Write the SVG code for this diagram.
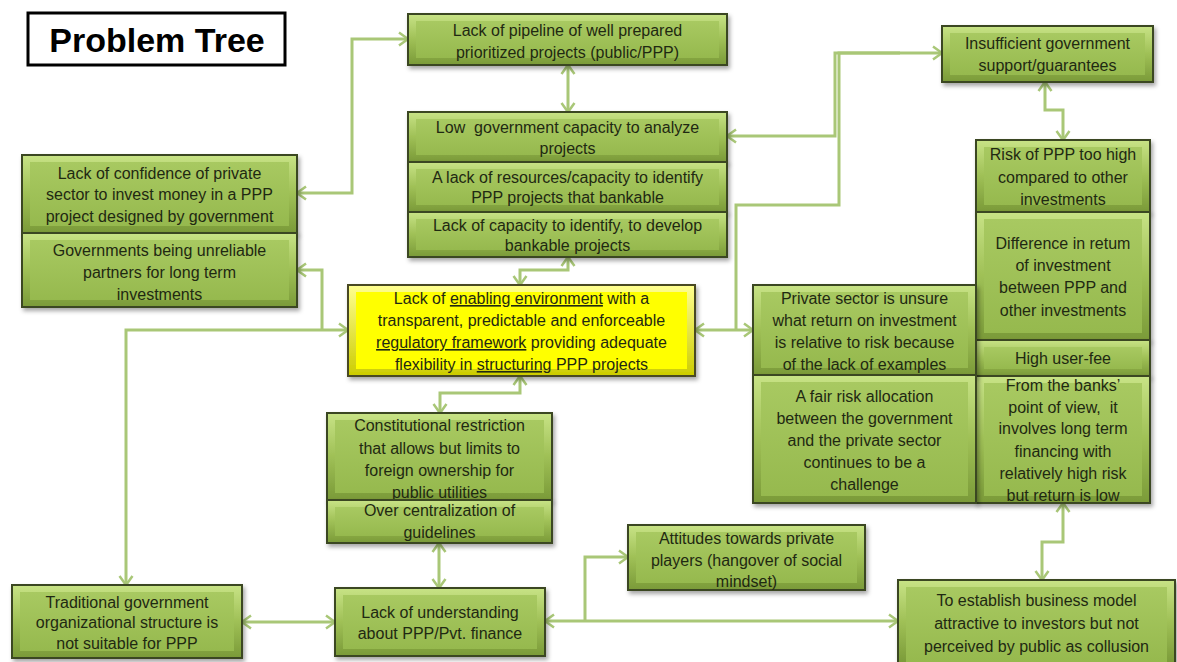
<svg xmlns="http://www.w3.org/2000/svg" width="1177" height="662" viewBox="0 0 1177 662">
<style>
.t{font-family:"Liberation Sans",Arial,sans-serif;font-size:16px;fill:#1f2912;text-anchor:middle;white-space:pre}
.edge{fill:url(#gEdge);stroke:#3a4722;stroke-width:2;filter:url(#sh)}
.face{fill:url(#gFace)}
.yedge{fill:url(#yEdge);stroke:#4a4a20;stroke-width:2;filter:url(#sh)}
.yface{fill:#ffff00}
.c{fill:none;stroke:#a9c777;stroke-width:3}
.u{text-decoration:underline}
</style>
<defs>
<linearGradient id="gEdge" x1="0" y1="0" x2="0" y2="1">
<stop offset="0" stop-color="#c8e386"/><stop offset="0.5" stop-color="#9fc056"/><stop offset="1" stop-color="#7a9a38"/>
</linearGradient>
<linearGradient id="gFace" x1="0" y1="0" x2="0" y2="1">
<stop offset="0" stop-color="#a8c961"/><stop offset="1" stop-color="#96b94e"/>
</linearGradient>
<linearGradient id="yEdge" x1="0" y1="0" x2="0" y2="1">
<stop offset="0" stop-color="#ffff90"/><stop offset="1" stop-color="#cccc00"/>
</linearGradient>
<filter id="sh" x="-10%" y="-10%" width="120%" height="130%">
<feDropShadow dx="2" dy="3" stdDeviation="2" flood-color="#000" flood-opacity="0.35"/>
</filter>
<marker id="ar" markerUnits="userSpaceOnUse" markerWidth="16" markerHeight="16" refX="12" refY="8" orient="auto-start-reverse">
<path d="M3,1.5 L12,8 L3,14.5" fill="none" stroke="#a9c777" stroke-width="2.5"/>
</marker>
</defs>
<rect width="1177" height="662" fill="#ffffff"/>

<g id="connectors">
<path class="c" d="M297,193 H352 V39 H408" marker-start="url(#ar)" marker-end="url(#ar)"/>
<path class="c" d="M568,65 V112" marker-start="url(#ar)" marker-end="url(#ar)"/>
<path class="c" d="M568,257 V270 H520 V285" marker-start="url(#ar)" marker-end="url(#ar)"/>
<path class="c" d="M520,376 V393 H440 V413" marker-start="url(#ar)" marker-end="url(#ar)"/>
<path class="c" d="M439,543 V588" marker-start="url(#ar)" marker-end="url(#ar)"/>
<path class="c" d="M242,622 H335" marker-start="url(#ar)" marker-end="url(#ar)"/>
<path class="c" d="M126,585 V330 H348" marker-start="url(#ar)" marker-end="url(#ar)"/>
<path class="c" d="M322,330 V270 H297" marker-end="url(#ar)"/>
<path class="c" d="M695,330 H753" marker-start="url(#ar)" marker-end="url(#ar)"/>
<path class="c" d="M736,330 V205 H839 V53 H942" marker-end="url(#ar)"/>
<path class="c" d="M727,136 H835 V53 H900" marker-start="url(#ar)"/>
<path class="c" d="M1045,82 V110 H1063 V140" marker-start="url(#ar)" marker-end="url(#ar)"/>
<path class="c" d="M1063,503 V542 H1042 V580" marker-start="url(#ar)" marker-end="url(#ar)"/>
<path class="c" d="M545,621 H898" marker-start="url(#ar)" marker-end="url(#ar)"/>
<path class="c" d="M585,621 V557 H628" marker-end="url(#ar)"/>
</g>

<g id="title">
<rect x="28" y="13" width="257" height="52" fill="#fff" stroke="#000" stroke-width="3"/>
<text x="157" y="52" style="font-family:'Liberation Sans',Arial,sans-serif;font-size:34px;font-weight:bold;text-anchor:middle" fill="#000">Problem Tree</text>
</g>

<g id="n_pipeline">
<rect class="edge" x="408" y="14" width="319" height="51"/><rect class="face" x="416" y="21" width="303" height="37"/>
<text class="t" x="567.5" y="36">Lack of pipeline of well prepared</text>
<text class="t" x="567.5" y="58">prioritized projects (public/PPP)</text>
</g>

<g id="n_lowcap">
<rect class="edge" x="408" y="112" width="319" height="50"/><rect class="face" x="416" y="119" width="303" height="36"/>
<text class="t" x="567.5" y="133">Low  government capacity to analyze</text>
<text class="t" x="567.5" y="154">projects</text>
</g>
<g id="n_resources">
<rect class="edge" x="408" y="162" width="319" height="50"/><rect class="face" x="416" y="169" width="303" height="36"/>
<text class="t" x="567.5" y="183">A lack of resources/capacity to identify</text>
<text class="t" x="567.5" y="203">PPP projects that bankable</text>
</g>
<g id="n_develop">
<rect class="edge" x="408" y="212" width="319" height="45"/><rect class="face" x="416" y="219" width="303" height="31"/>
<text class="t" x="567.5" y="231">Lack of capacity to identify, to develop</text>
<text class="t" x="567.5" y="251">bankable projects</text>
</g>

<g id="n_confidence">
<rect class="edge" x="22" y="155" width="275" height="78"/><rect class="face" x="30" y="162" width="259" height="64"/>
<text class="t" x="159.5" y="179">Lack of confidence of private</text>
<text class="t" x="159.5" y="200">sector to invest money in a PPP</text>
<text class="t" x="159.5" y="222">project designed by government</text>
</g>
<g id="n_unreliable">
<rect class="edge" x="22" y="233" width="275" height="74"/><rect class="face" x="30" y="240" width="259" height="60"/>
<text class="t" x="159.5" y="256">Governments being unreliable</text>
<text class="t" x="159.5" y="278">partners for long term</text>
<text class="t" x="159.5" y="300">investments</text>
</g>

<g id="n_core">
<rect class="yedge" x="348" y="285" width="347" height="91"/><rect class="yface" x="356" y="292" width="331" height="77"/>
<text class="t" x="521.5" y="304">Lack of <tspan class="u">enabling environment</tspan> with a</text>
<text class="t" x="521.5" y="326">transparent, predictable and enforceable</text>
<text class="t" x="521.5" y="348"><tspan class="u">regulatory framework</tspan> providing adequate</text>
<text class="t" x="521.5" y="370">flexibility in <tspan class="u">structuring</tspan> PPP projects</text>
</g>

<g id="n_constitution">
<rect class="edge" x="327" y="413" width="225" height="87"/><rect class="face" x="335" y="420" width="209" height="73"/>
<text class="t" x="439.5" y="431">Constitutional restriction</text>
<text class="t" x="439.5" y="454">that allows but limits to</text>
<text class="t" x="439.5" y="476">foreign ownership for</text>
<text class="t" x="439.5" y="498">public utilities</text>
</g>
<g id="n_central">
<rect class="edge" x="327" y="500" width="225" height="43"/><rect class="face" x="335" y="507" width="209" height="29"/>
<text class="t" x="439.5" y="516">Over centralization of</text>
<text class="t" x="439.5" y="538">guidelines</text>
</g>

<g id="n_traditional">
<rect class="edge" x="12" y="585" width="230" height="73"/><rect class="face" x="20" y="592" width="214" height="59"/>
<text class="t" x="127" y="608">Traditional government</text>
<text class="t" x="127" y="628">organizational structure is</text>
<text class="t" x="127" y="649">not suitable for PPP</text>
</g>

<g id="n_understanding">
<rect class="edge" x="335" y="588" width="210" height="68"/><rect class="face" x="343" y="595" width="194" height="54"/>
<text class="t" x="440" y="618">Lack of understanding</text>
<text class="t" x="440" y="639">about PPP/Pvt. finance</text>
</g>

<g id="n_attitudes">
<rect class="edge" x="628" y="525" width="237" height="65"/><rect class="face" x="636" y="532" width="221" height="51"/>
<text class="t" x="746.5" y="544">Attitudes towards private</text>
<text class="t" x="746.5" y="566">players (hangover of social</text>
<text class="t" x="746.5" y="587">mindset)</text>
</g>

<g id="n_business">
<rect class="edge" x="898" y="580" width="277" height="84"/><rect class="face" x="906" y="587" width="261" height="75"/>
<text class="t" x="1036.5" y="606">To establish business model</text>
<text class="t" x="1036.5" y="629">attractive to investors but not</text>
<text class="t" x="1036.5" y="652">perceived by public as collusion</text>
</g>

<g id="n_insufficient">
<rect class="edge" x="942" y="26" width="211" height="56"/><rect class="face" x="950" y="33" width="195" height="42"/>
<text class="t" x="1047.5" y="49">Insufficient government</text>
<text class="t" x="1047.5" y="71">support/guarantees</text>
</g>

<g id="n_risk">
<rect class="edge" x="976" y="140" width="174" height="72"/><rect class="face" x="984" y="147" width="158" height="58"/>
<text class="t" x="1063" y="160">Risk of PPP too high</text>
<text class="t" x="1063" y="183">compared to other</text>
<text class="t" x="1063" y="205">investments</text>
</g>
<g id="n_difference">
<rect class="edge" x="976" y="212" width="174" height="128"/><rect class="face" x="984" y="219" width="158" height="114"/>
<text class="t" x="1063" y="249">Difference in retum</text>
<text class="t" x="1063" y="271">of investment</text>
<text class="t" x="1063" y="293">between PPP and</text>
<text class="t" x="1063" y="316">other investments</text>
</g>
<g id="n_userfee">
<rect class="edge" x="976" y="340" width="174" height="36"/><rect class="face" x="984" y="347" width="158" height="22"/>
<text class="t" x="1063" y="364">High user-fee</text>
</g>
<g id="n_banks">
<rect class="edge" x="976" y="376" width="174" height="127"/><rect class="face" x="984" y="383" width="158" height="113"/>
<text class="t" x="1063" y="391">From the banks’</text>
<text class="t" x="1063" y="413">point of view,  it</text>
<text class="t" x="1063" y="434">involves long term</text>
<text class="t" x="1063" y="457">financing with</text>
<text class="t" x="1063" y="479">relatively high risk</text>
<text class="t" x="1063" y="501">but return is low</text>
</g>

<g id="n_unsure">
<rect class="edge" x="753" y="285" width="223" height="90"/><rect class="face" x="761" y="292" width="207" height="76"/>
<text class="t" x="864.5" y="304">Private sector is unsure</text>
<text class="t" x="864.5" y="326">what return on investment</text>
<text class="t" x="864.5" y="348">is relative to risk because</text>
<text class="t" x="864.5" y="370">of the lack of examples</text>
</g>
<g id="n_fair">
<rect class="edge" x="753" y="375" width="223" height="128"/><rect class="face" x="761" y="382" width="207" height="114"/>
<text class="t" x="864.5" y="402">A fair risk allocation</text>
<text class="t" x="864.5" y="424">between the government</text>
<text class="t" x="864.5" y="446">and the private sector</text>
<text class="t" x="864.5" y="468">continues to be a</text>
<text class="t" x="864.5" y="490">challenge</text>
</g>
</svg>
